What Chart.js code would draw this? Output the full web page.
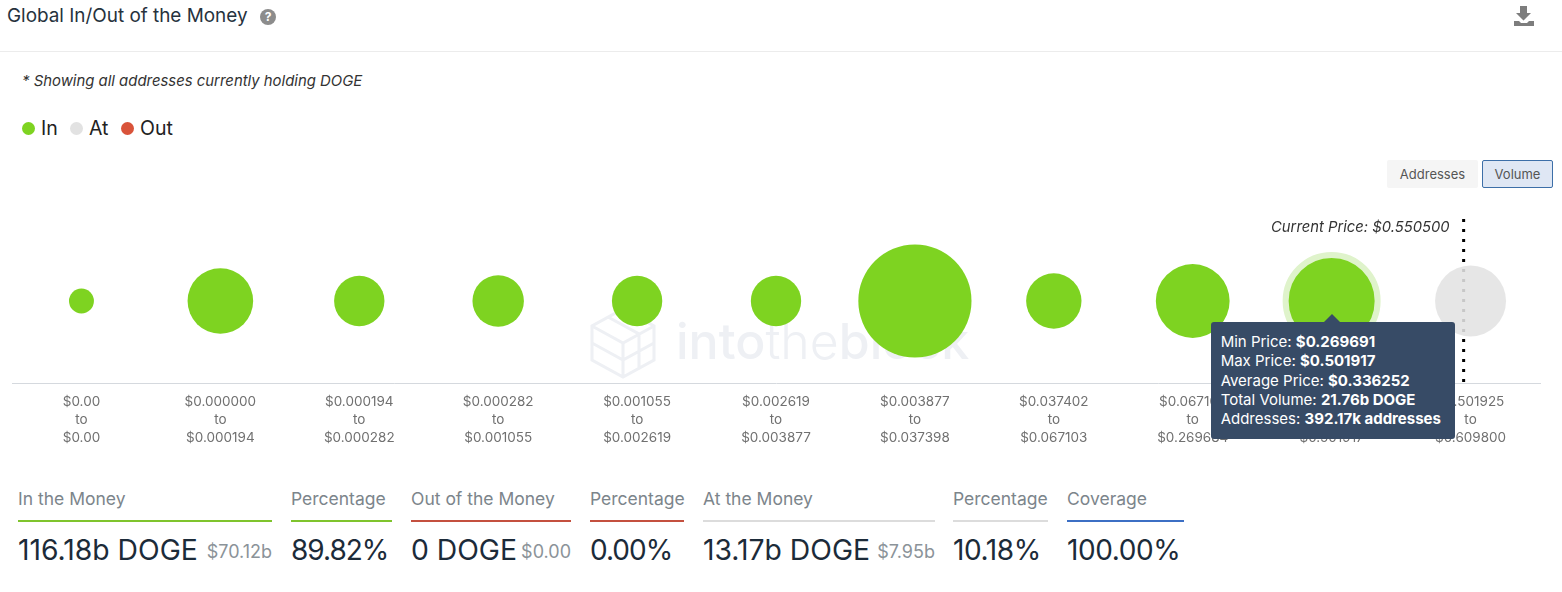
<!DOCTYPE html>
<html>
<head>
<meta charset="utf-8">
<title>Global In/Out of the Money</title>
<script src="https://cdn.jsdelivr.net/npm/chart.js@4/dist/chart.umd.min.js"></script>
<style>
  html, body { margin: 0; background: #fff; overflow: hidden; }
  body { width: 1562px; height: 592px; position: relative; font-family: Inter, "Noto Sans", sans-serif; color: #1c2b39; }
  .abs { position: absolute; white-space: nowrap; }
  #chart { position: absolute; left: 0; top: 210px; }
  .dot { position: absolute; width: 13px; height: 13px; border-radius: 50%; top: 122px; }
  .legend { top: 116px; font-size: 19.5px; line-height: 24px; color: #222; }
  .btn { position: absolute; box-sizing: border-box; font-size: 13px; color: #555; text-align: center; border-radius: 2px; }
  .head { top: 488px; font-size: 17.5px; line-height: 22px; color: #7c858b; }
  .rule { position: absolute; top: 520px; height: 2px; }
  .big { top: 532px; font-size: 28.3px; line-height: 36px; color: #1c2b39; }
  .pct { letter-spacing: -1px; font-size: 28px; }
  .small { top: 539px; font-size: 18px; line-height: 26px; color: #8b9399; }
  #tip { position: absolute; display: none; box-sizing: border-box; width: 244px; height: 117px; padding: 10px 0 0 10px;
         background: #374b66; border-radius: 3px; color: #fff; font-size: 15px; line-height: 19.3px; white-space: nowrap; }
  #tip b { font-weight: 700; }
  #tip:before { content: ""; position: absolute; left: 113px; top: -8px; border-left: 8px solid transparent; border-right: 8px solid transparent; border-bottom: 8px solid #374b66; }
</style>
</head>
<body>
<div class="abs" style="left:7px;top:4px;font-size:18.9px;line-height:24px;color:#26323d">Global In/Out of the Money</div>
<div class="abs" style="left:260px;top:9px;width:16px;height:16px;border-radius:50%;background:#8c8c8c;color:#fff;font-size:12px;font-weight:700;line-height:16px;text-align:center">?</div>
<svg class="abs" style="left:1513px;top:5px" width="22" height="22" viewBox="0 0 22 22">
  <path fill="#7d7d7d" d="M7 1h7v7h4l-7.5 7.5L3 8h4zM1 16h5l2 2h6l2-2h5v5H1z"/>
</svg>
<div class="abs" style="left:0;top:51px;width:1562px;height:1px;background:#ececec"></div>
<div class="abs" style="left:22px;top:71px;font-size:14.9px;line-height:20px;font-style:italic;color:#333">* Showing all addresses currently holding DOGE</div>

<div class="dot" style="left:22px;background:#7ed321"></div>
<div class="abs legend" style="left:41px">In</div>
<div class="dot" style="left:70px;background:#e2e2e2"></div>
<div class="abs legend" style="left:89px">At</div>
<div class="dot" style="left:121px;background:#d9533a"></div>
<div class="abs legend" style="left:140px">Out</div>

<div class="btn" style="left:1387px;top:160px;width:91px;height:28px;line-height:28px;background:#f5f5f5">Addresses</div>
<div class="btn" style="left:1482px;top:160px;width:71px;height:28px;line-height:26px;background:#dfe7f4;border:1px solid #3d6fa8">Volume</div>

<!-- watermark -->
<svg class="abs" style="left:588px;top:306px" width="70" height="74" viewBox="0 0 70 74" fill="none" stroke="#eef0f4" stroke-width="3">
  <path d="M35 3 66 20V54L35 71 4 54V20ZM4 20 35 37 66 20M35 37V71M4 37 35 54 66 37M20 11 51 28V62"/>
</svg>
<div class="abs" style="left:676px;top:306px;font-size:50px;line-height:70px;font-weight:500;color:#eef0f4">into<span style="font-weight:300">the</span>block</div>

<canvas id="chart" width="1562" height="250"></canvas>
<div id="tip"></div>

<div class="abs head" style="left:18px">In the Money</div>
<div class="rule" style="left:18px;width:254px;background:#7fc42d"></div>
<div class="abs big" style="left:18px">116.18b DOGE</div>
<div class="abs small" style="right:1290px">$70.12b</div>

<div class="abs head" style="left:291px">Percentage</div>
<div class="rule" style="left:291px;width:101px;background:#7fc42d"></div>
<div class="abs big pct" style="left:291px">89.82%</div>

<div class="abs head" style="left:411px">Out of the Money</div>
<div class="rule" style="left:411px;width:160px;background:#c4503f"></div>
<div class="abs big" style="left:411px">0 DOGE</div>
<div class="abs small" style="right:991px">$0.00</div>

<div class="abs head" style="left:590px">Percentage</div>
<div class="rule" style="left:590px;width:94px;background:#c4503f"></div>
<div class="abs big pct" style="left:590px">0.00%</div>

<div class="abs head" style="left:703px">At the Money</div>
<div class="rule" style="left:703px;width:232px;background:#dcdcdc"></div>
<div class="abs big" style="left:703px">13.17b DOGE</div>
<div class="abs small" style="right:627px">$7.95b</div>

<div class="abs head" style="left:953px">Percentage</div>
<div class="rule" style="left:953px;width:95px;background:#dcdcdc"></div>
<div class="abs big pct" style="left:953px;letter-spacing:-0.4px">10.18%</div>

<div class="abs head" style="left:1067px">Coverage</div>
<div class="rule" style="left:1067px;width:117px;background:#3c6fc4"></div>
<div class="abs big pct" style="left:1067px;letter-spacing:-0.4px">100.00%</div>

<script>
// price bins, lower and upper bound
const binFrom = ['$0.00', '$0.000000', '$0.000194', '$0.000282', '$0.001055', '$0.002619', '$0.003877', '$0.037402', '$0.067103', '$0.269691', '$0.501925'];
const binTo = ['$0.00', '$0.000194', '$0.000282', '$0.001055', '$0.002619', '$0.003877', '$0.037398', '$0.067103', '$0.269684', '$0.501917', '$0.609800'];

// volume per bin, billions of DOGE
const inVolume = [0.2, 10.6, 4.85, 5.2, 4.85, 4.85, 42.8, 6.5, 14.6, 21.76, null];
const atVolume = [null, null, null, null, null, null, null, null, null, null, 13.17];

const currentPrice = 0.5505;
const currentBin = 10;
const currentBinFrom = 0.501925;
const currentBinTo = 0.6098;

// tooltip of the highlighted bubble
const tipIndex = 9;
const tipLabels = ['Min Price:', 'Max Price:', 'Average Price:', 'Total Volume:', 'Addresses:'];
const tipValues = ['$0.269691', '$0.501917', '$0.336252', '21.76b DOGE', '392.17k addresses'];

const toPoints = (values) => values
  .map((v, i) => ({ x: i, y: 0.5, v }))
  .filter((p) => p.v !== null);

// bubble size grows with the square root of the volume
const bubbleRadius = (ctx) => {
  const p = ctx.raw;
  return p && p.v !== undefined ? 9.23 + 7.24 * Math.sqrt(p.v) : 0;
};

const currentX = currentBin - 0.5 + (currentPrice - currentBinFrom) / (currentBinTo - currentBinFrom);

const currentPriceLabel = {
  id: 'currentPriceLabel',
  afterDraw(chart) {
    const { ctx, scales } = chart;
    ctx.save();
    ctx.font = 'italic 14.8px Inter';
    ctx.fillStyle = '#333';
    ctx.textAlign = 'right';
    ctx.textBaseline = 'middle';
    ctx.fillText('Current Price: $' + currentPrice.toFixed(6), scales.x.getPixelForValue(currentX) - 14, 17.5);
    ctx.restore();
  },
};

const showTip = ({ tooltip }) => {
  const tip = document.getElementById('tip');
  if (!tooltip.dataPoints || !tooltip.dataPoints.length) {
    tip.style.display = 'none';
    return;
  }
  tip.innerHTML = tipLabels.map((l, i) => l + ' <b>' + tipValues[i] + '</b>').join('<br>');
  tip.style.display = 'block';
  tip.style.left = tooltip.caretX - 121 + 'px';
  tip.style.top = 210 + tooltip.caretY + 21 + 'px';
};

const chart = new Chart(document.getElementById('chart'), {
  type: 'bubble',
  data: {
    datasets: [
      {
        label: 'In',
        data: toPoints(inVolume),
        backgroundColor: '#7ed321',
        hoverBackgroundColor: '#7ed321',
        borderWidth: 0,
        hoverBorderWidth: 6,
        hoverBorderColor: '#dff3cb',
        hoverRadius: 3,
        radius: bubbleRadius,
        order: 1,
      },
      {
        label: 'At',
        data: toPoints(atVolume),
        backgroundColor: 'rgba(226,226,226,0.88)',
        borderWidth: 0,
        radius: bubbleRadius,
        order: 1,
      },
      {
        type: 'line',
        label: 'Current Price',
        data: [{ x: currentX, y: 1 }, { x: currentX, y: 0 }],
        borderColor: '#000',
        borderWidth: 3,
        borderDash: [3, 7],
        pointRadius: 0,
        order: 2,
      },
    ],
  },
  options: {
    responsive: false,
    animation: false,
    events: [],
    layout: { autoPadding: false, padding: { left: 12, right: 22, top: 9, bottom: 0 } },
    plugins: {
      legend: { display: false },
      title: { display: false },
      tooltip: { enabled: false, external: showTip },
    },
    scales: {
      x: {
        type: 'linear',
        min: -0.5,
        max: binFrom.length - 0.5,
        afterBuildTicks: (scale) => {
          scale.ticks = binFrom.map((_, i) => ({ value: i }));
        },
        afterFit: (scale) => {
          scale.height = 77;
        },
        grid: { display: false, drawTicks: false },
        border: { color: '#d5d9de', width: 1 },
        ticks: {
          autoSkip: false,
          maxRotation: 0,
          padding: 10,
          color: '#707070',
          font: { family: 'Inter', size: 13.5, lineHeight: 1.34 },
          callback: (value) => [binFrom[value], 'to', binTo[value]],
        },
      },
      y: { display: false, min: 0, max: 1 },
    },
  },
  plugins: [currentPriceLabel],
});

const active = [{ datasetIndex: 0, index: tipIndex }];
chart.setActiveElements(active);
chart.tooltip.setActiveElements(active, { x: 0, y: 0 });
chart.update();
</script>
</body>
</html>
